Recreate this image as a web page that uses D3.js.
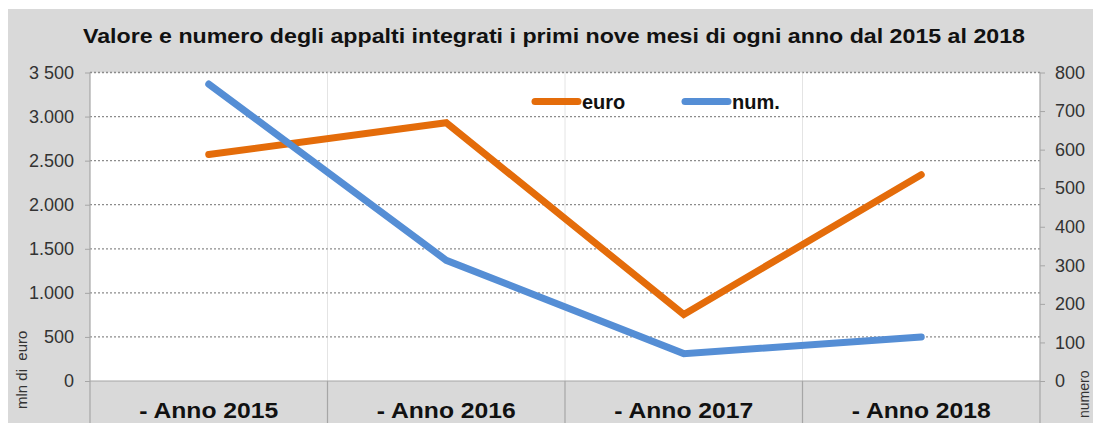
<!DOCTYPE html>
<html><head><meta charset="utf-8">
<script src="https://cdn.jsdelivr.net/npm/d3@7"></script>
<style>html,body{margin:0;padding:0;background:#fff;}svg{display:block;font-family:"Liberation Sans",Arial,sans-serif;}</style>
</head><body>
<svg id="c" width="1093" height="423"></svg>
<script>
const categories = ["- Anno 2015", "- Anno 2016", "- Anno 2017", "- Anno 2018"];
const euroValues = [2570, 2930, 755, 2340];
const numValues = [770, 313, 71, 114];
const leftTicks = [0, 500, 1000, 1500, 2000, 2500, 3000, 3500];
const leftTickLabels = ["0", "500", "1.000", "1.500", "2.000", "2.500", "3.000", "3 500"];
const rightTicks = [0, 100, 200, 300, 400, 500, 600, 700, 800];
const rightTickLabels = ["0", "100", "200", "300", "400", "500", "600", "700", "800"];
const seriesNames = ["euro", "num."];
const titleText = "Valore e numero degli appalti integrati i primi nove mesi di ogni anno dal 2015 al 2018";

const svg = d3.select("#c");
const L = 90, R = 1040, T = 72.5, B = 381;
const orange = "#E46C0A", blue = "#558ED5";

svg.append("rect").attr("x", 8).attr("y", 9).attr("width", 1093 - 8).attr("height", 423 - 9).attr("fill", "#d9d9d9");
svg.append("rect").attr("x", L).attr("y", T).attr("width", R - L).attr("height", B - T).attr("fill", "#fff");

const x = d3.scaleBand().domain(categories).range([L, R]).padding(0);
const yL = d3.scaleLinear().domain([0, 3500]).range([B, T]);
const yR = d3.scaleLinear().domain([0, 800]).range([B, T]);

// horizontal gridlines (dotted)
svg.append("g").selectAll("line").data(leftTicks.filter(d => d > 0)).join("line")
  .attr("x1", L).attr("x2", R).attr("y1", d => yL(d)).attr("y2", d => yL(d))
  .attr("stroke", "#8c8c8c").attr("stroke-width", 1.3).attr("stroke-dasharray", "2,2");

// vertical category separators in plot (light dotted)
svg.append("g").selectAll("line").data(categories.slice(1)).join("line")
  .attr("x1", d => x(d)).attr("x2", d => x(d)).attr("y1", T).attr("y2", B)
  .attr("stroke", "#c8c8c8").attr("stroke-width", 1).attr("stroke-dasharray", "1,1");

// category band separators
svg.append("g").selectAll("line").data(categories.slice(1)).join("line")
  .attr("x1", d => x(d)).attr("x2", d => x(d)).attr("y1", B).attr("y2", 423)
  .attr("stroke", "#a6a6a6").attr("stroke-width", 1.2);

// x axis line
svg.append("line").attr("x1", L).attr("x2", R).attr("y1", B).attr("y2", B).attr("stroke", "#a6a6a6").attr("stroke-width", 1.2);

// left axis
const gl = svg.append("g").attr("transform", `translate(${L},0)`)
  .call(d3.axisLeft(yL).tickValues(leftTicks).tickSize(5).tickPadding(11)
    .tickFormat((d, i) => leftTickLabels[i]));
gl.select(".domain").attr("d", `M0,${T}V423`).attr("stroke", "#a6a6a6").attr("stroke-width", 1.2);
gl.selectAll(".tick line").attr("stroke", "#a6a6a6");
gl.selectAll(".tick text").attr("font-size", 18).attr("fill", "#333").attr("font-family", "Liberation Sans, Arial, sans-serif");

// right axis
const gr = svg.append("g").attr("transform", `translate(${R},0)`)
  .call(d3.axisRight(yR).tickValues(rightTicks).tickSize(5).tickPadding(10)
    .tickFormat((d, i) => rightTickLabels[i]));
gr.select(".domain").attr("d", `M0,${T}V423`).attr("stroke", "#a6a6a6").attr("stroke-width", 1.2);
gr.selectAll(".tick line").attr("stroke", "#a6a6a6");
gr.selectAll(".tick text").attr("font-size", 18).attr("fill", "#333").attr("font-family", "Liberation Sans, Arial, sans-serif");

// category labels
svg.append("g").selectAll("text").data(categories).join("text")
  .attr("x", d => x(d) + x.bandwidth() / 2).attr("y", 418)
  .attr("text-anchor", "middle").attr("font-weight", "bold").attr("font-size", 22).attr("fill", "#111")
  .attr("textLength", 139).attr("lengthAdjust", "spacingAndGlyphs")
  .text(d => d);

// axis titles
svg.append("text").attr("transform", "translate(27,409) rotate(-90)")
  .attr("font-size", 15).attr("fill", "#333").attr("xml:space", "preserve").text("mln di  euro");
svg.append("text").attr("transform", "translate(1089,418) rotate(-90)")
  .attr("font-size", 14).attr("fill", "#333").text("numero");

// lines
const lineL = d3.line().x((d, i) => x(categories[i]) + x.bandwidth() / 2).y(d => yL(d));
const lineR = d3.line().x((d, i) => x(categories[i]) + x.bandwidth() / 2).y(d => yR(d));
svg.append("path").datum(euroValues).attr("d", lineL).attr("fill", "none")
  .attr("stroke", orange).attr("stroke-width", 7).attr("stroke-linecap", "round").attr("stroke-linejoin", "miter");
svg.append("path").datum(numValues).attr("d", lineR).attr("fill", "none")
  .attr("stroke", blue).attr("stroke-width", 7).attr("stroke-linecap", "round").attr("stroke-linejoin", "miter");

// legend
const legend = [{name: seriesNames[0], color: orange, x: 532}, {name: seriesNames[1], color: blue, x: 682}];
const lg = svg.append("g").selectAll("g").data(legend).join("g");
lg.append("line").attr("x1", d => d.x + 3).attr("x2", d => d.x + 46).attr("y1", 101.5).attr("y2", 101.5)
  .attr("stroke", d => d.color).attr("stroke-width", 7).attr("stroke-linecap", "round");
lg.append("text").attr("x", d => d.x + 50).attr("y", 108.5).attr("font-size", 20).attr("font-weight", "bold")
  .attr("fill", "#111").text(d => d.name);

// title
svg.append("text").attr("x", 554).attr("y", 43).attr("text-anchor", "middle")
  .attr("font-size", 21).attr("font-weight", "bold").attr("fill", "#111")
  .attr("textLength", 942).attr("lengthAdjust", "spacingAndGlyphs").text(titleText);
</script>
</body></html>
